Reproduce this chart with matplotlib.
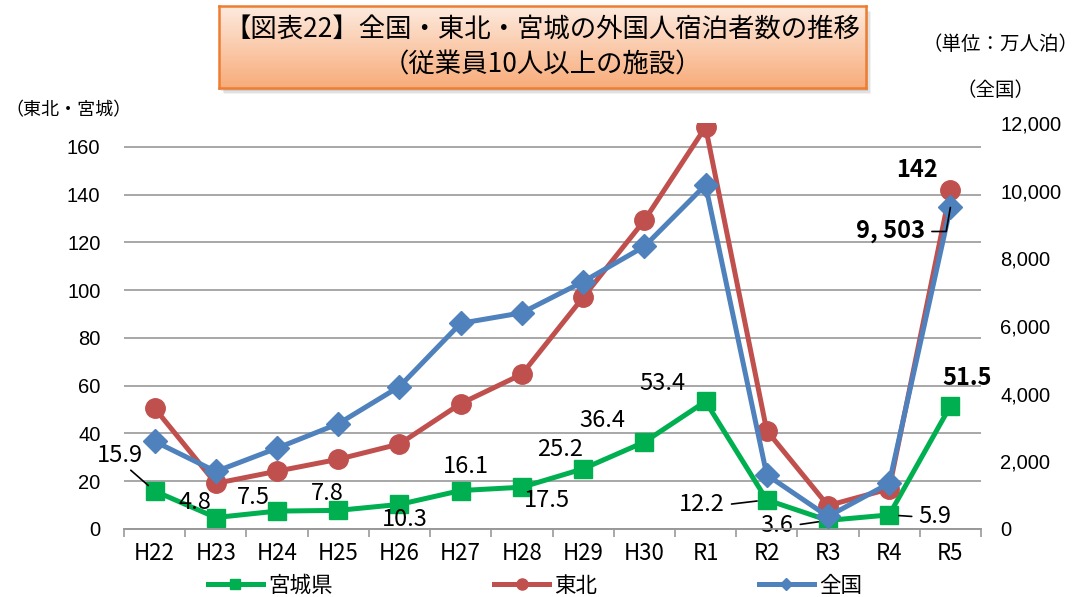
import matplotlib
matplotlib.use("Agg")
import matplotlib.pyplot as plt
import numpy as np
from matplotlib.lines import Line2D
from matplotlib.patches import Rectangle
from matplotlib.ticker import FuncFormatter, FixedLocator

# ---------------- data ----------------
years = ['H22', 'H23', 'H24', 'H25', 'H26', 'H27', 'H28', 'H29', 'H30', 'R1', 'R2', 'R3', 'R4', 'R5']
miyagi = [15.9, 4.8, 7.5, 7.8, 10.3, 16.1, 17.5, 25.2, 36.4, 53.4, 12.2, 3.6, 5.9, 51.5]
tohoku = [50.6, 19.1, 24.2, 29.2, 35.6, 52.5, 64.8, 97.0, 129.2, 168.3, 41.2, 9.8, 16.8, 142]
zenkoku = [2590, 1700, 2390, 3110, 4210, 6080, 6390, 7310, 8350, 10170, 1600, 370, 1350, 9503]

left_ticks = [0, 20, 40, 60, 80, 100, 120, 140, 160]
right_ticks = [0, 2000, 4000, 6000, 8000, 10000, 12000]

title1 = '【図表22】全国・東北・宮城の外国人宿泊者数の推移'
title2 = '（従業員10人以上の施設）'

GREEN = '#00b050'
RED = '#c0504d'
BLUE = '#4f81bd'

CJK = ['Noto Sans CJK JP', 'DejaVu Sans']
NARROW = ['Noto Sans CJK JP', 'DejaVu Sans']
ARIAL = ['Liberation Sans', 'DejaVu Sans']
plt.rcParams['font.family'] = CJK

W, H = 1079, 597
fig = plt.figure(figsize=(W / 100, H / 100), dpi=100)

def fx(px):
    return px / W

def fy(py):
    return 1 - py / H

# main axes: x from 124 to 981 px, y from 123 (top=170) to 529 (0)
ax = fig.add_axes([fx(124), fy(529), fx(981) - fx(124), fy(123) - fy(529)])
ax2 = ax.twinx()

x = np.arange(len(years))
lw = 3.6
ax.plot(x, miyagi, color=GREEN, lw=lw, marker='s', ms=13, zorder=3, label='宮城県')
ax.plot(x, tohoku, color=RED, lw=lw, marker='o', ms=14, zorder=4, label='東北')
ax2.plot(x, zenkoku, color=BLUE, lw=lw, marker='D', ms=12, zorder=5, label='全国')

ax.set_xlim(-0.5, len(years) - 0.5)
ax.set_ylim(0, 170)
ax2.set_ylim(0, 12000)

ax.set_yticks(left_ticks)
ax2.set_yticks(right_ticks)
ax2.yaxis.set_major_formatter(FuncFormatter(lambda v, p: f'{int(v):,}'))

ax.grid(axis='y', color='#a0a0a0', lw=1.3)
ax.set_axisbelow(True)
for a in (ax, ax2):
    for s in ('left', 'right', 'top'):
        a.spines[s].set_visible(False)
    a.spines['bottom'].set_color('#999999')
    a.spines['bottom'].set_linewidth(1.2)

ax.set_xticks(x)
ax.set_xticklabels(years, fontfamily=NARROW, fontsize=16)
ax.xaxis.set_minor_locator(FixedLocator(np.arange(-0.5, len(years), 1.0)))
ax.tick_params(axis='x', which='major', length=0, pad=9)
ax.tick_params(axis='x', which='minor', length=6, color='#999999', width=1.2)
ax.tick_params(axis='y', length=0, pad=17, labelsize=14.5)
ax2.tick_params(axis='y', length=0, pad=14, labelsize=14.5)
for lab in ax.get_yticklabels():
    lab.set_fontfamily(ARIAL)
for lab in ax2.get_yticklabels():
    lab.set_fontfamily(ARIAL)
    lab.set_horizontalalignment('left')

# ---------------- data labels ----------------
P = 0.72  # px -> pt
lab_kw = dict(textcoords='offset points', ha='center', va='center',
              fontfamily=NARROW, fontsize=17, color='black', zorder=6)

green_offsets = [(-35, 36), (-21, 15), (-24, 14), (-11, 17), (5, -15), (5, 24), (25, -13),
                 (-23, 19), (-42, 22), (-43, 18), (-65, -5), (-51, -5), (46, -2), (17, 28)]
for i, (v, (dx, dy)) in enumerate(zip(miyagi, green_offsets)):
    txt = f'{v:.1f}'
    kw = dict(lab_kw)
    if i == len(miyagi) - 1:
        kw['fontweight'] = 'bold'
    arrow = None
    if i == 0:
        arrow = dict(arrowstyle='-', color='black', lw=1.2, shrinkA=1, shrinkB=6, relpos=(0.65, 0.0))
    elif i in (10, 11):
        arrow = dict(arrowstyle='-', color='black', lw=1.2, shrinkA=3, shrinkB=7, relpos=(1.0, 0.5))
    elif i == 12:
        arrow = dict(arrowstyle='-', color='black', lw=1.2, shrinkA=3, shrinkB=7, relpos=(0.0, 0.5))
    ax.annotate(txt, xy=(i, v), xytext=(dx * P, dy * P), arrowprops=arrow, **kw)

# 東北 R5
kw = dict(lab_kw)
kw['fontweight'] = 'bold'
ax.annotate(f'{tohoku[-1]:g}', xy=(len(years) - 1, tohoku[-1]), xytext=(-33 * P, 20 * P), **kw)

# 全国 R5
kw = dict(lab_kw)
kw['fontweight'] = 'bold'
kw['zorder'] = 7
ax2.annotate(f'{zenkoku[-1]:,}'.replace(',', ', '), xy=(len(years) - 1, zenkoku[-1]),
             xytext=(-60 * P, -24 * P),
             arrowprops=dict(arrowstyle='-', color='black', lw=1.2, shrinkA=3, shrinkB=0,
                             relpos=(1.0, 0.5),
                             connectionstyle='angle,angleA=0,angleB=80,rad=0'),
             **kw)

# ---------------- axis captions ----------------
fig.text(fx(68), fy(110), '（東北・宮城）', ha='center', va='center', fontsize=13)
fig.text(fx(1000), fy(45), '（単位：万人泊）', ha='center', va='center', fontsize=14)
fig.text(fx(996), fy(90), '（全国）', ha='center', va='center', fontsize=14)

# ---------------- legend ----------------
handles = [
    Line2D([], [], color=GREEN, lw=lw, marker='s', ms=7),
    Line2D([], [], color=RED, lw=lw, marker='o', ms=8),
    Line2D([], [], color=BLUE, lw=lw, marker='D', ms=6),
]
fig.legend(handles, ['宮城県', '東北', '全国'], loc='center left',
           bbox_to_anchor=(fx(208), fy(586)), ncol=3, frameon=False,
           fontsize=15.5, handlelength=2.55, handletextpad=0.25, columnspacing=7.5,
           borderpad=0, borderaxespad=0)

# ---------------- title box ----------------
bx0, bx1, by0, by1 = 219, 866, 6, 88
# shadow
for k, al in enumerate([0.10, 0.14, 0.20]):
    off = 6 - 1.5 * k
    sh = Rectangle((fx(bx0 + off - 1), fy(by1 + off)), fx(bx1 - bx0), fy(by0) - fy(by1),
                   transform=fig.transFigure, facecolor='#808080', edgecolor='none',
                   alpha=al, zorder=1)
    fig.patches.append(sh)

tax = fig.add_axes([fx(bx0), fy(by1), fx(bx1) - fx(bx0), fy(by0) - fy(by1)], zorder=2)
top = np.array([253, 234, 222]) / 255
bot = np.array([248, 172, 122]) / 255
t = np.linspace(0, 1, 100)[:, None, None]
grad = top[None, None, :] * (1 - t) + bot[None, None, :] * t
grad = np.repeat(grad, 2, axis=1)
tax.imshow(grad, aspect='auto', extent=(0, 1, 0, 1), origin='upper')
tax.set_xlim(0, 1)
tax.set_ylim(0, 1)
tax.set_xticks([])
tax.set_yticks([])
for s in tax.spines.values():
    s.set_color('#ed7d31')
    s.set_linewidth(1.8)
tax.text(0.5, 0.72, title1, ha='center', va='center', fontsize=19, transform=tax.transAxes)
tax.text(0.5, 0.28, title2, ha='center', va='center', fontsize=19, transform=tax.transAxes)

fig.savefig('out.png', dpi=100)
